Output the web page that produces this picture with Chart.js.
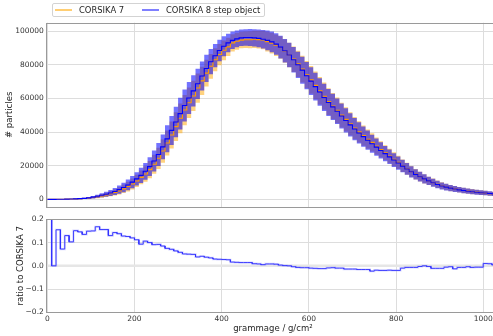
<!DOCTYPE html>
<html><head><meta charset="utf-8">
<script src="https://cdn.jsdelivr.net/npm/chart.js@4.4.0/dist/chart.umd.min.js"></script>
<style>
html,body{margin:0;padding:0;background:#fff;overflow:hidden;}
#wrap{position:relative;width:493px;height:336px;overflow:hidden;background:#fff;font-family:'DejaVu Sans',sans-serif;}
canvas{position:absolute;left:0;}
#top{top:0}
#bot{top:209px}
#legend{position:absolute;left:51.5px;top:2.5px;width:213px;height:14.5px;border:1px solid #d3d3d3;border-radius:2px;background:rgba(255,255,255,0.8);box-sizing:border-box;}
.ln{position:absolute;height:1.5px;width:17px;top:5.8px}
.tx{position:absolute;top:0;line-height:12.5px;font-size:8.4px;color:#262626;white-space:nowrap}
</style></head>
<body><div id="wrap">
<canvas id="top" width="503" height="215"></canvas>
<canvas id="bot" width="503" height="127"></canvas>
<div id="legend">
 <div class="ln" style="left:2.5px;background:rgba(255,165,0,0.55)"></div>
 <div class="tx" style="left:26.5px">CORSIKA 7</div>
 <div class="ln" style="left:89px;background:rgba(0,0,255,0.5)"></div>
 <div class="tx" style="left:113.5px">CORSIKA 8 step object</div>
</div>
</div>
<script>
const binWidth = 10;
const c8 = [40,60,90,130,180,250,340,470,650,950,
 1350,1850,2450,3100,3850,4750,5800,7100,8600,10300,
 12200,14300,16700,19500,22800,26700,31200,36000,41000,46000,
 51000,55800,60300,64500,68700,73300,77800,81800,85400,88500,
 91000,93000,94500,95400,96000,96200,96200,96000,95700,95200,
 94500,93600,92300,90500,88300,85800,83000,80000,76800,73500,
 70300,67000,63800,60600,57600,55000,52400,49600,46900,44300,
 41800,39500,37300,35200,33100,31100,29100,27200,25300,23400,
 21600,19800,18100,16400,14900,13500,12200,11000,9900,8900,
 8000,7300,6700,6200,5700,5300,4900,4600,4300,4000,
 3800,3500,3300,3100];
const c7 = [30,60,78,121,159,227,295,410,573,827,
 1174,1584,2119,2682,3407,4156,5097,6294,7638,9196,
 10971,13083,15100,17727,20898,24451,28756,33488,38282,43233,
 48204,53092,57429,61487,66185,70413,75024,79110,82993,86089,
 88608,90643,93012,93990,94670,94870,94870,95140,94940,94730,
 93750,92860,91660,90230,88210,85800,83330,80560,77420,74090,
 71010,67745,64575,61336,58123,55444,52929,50101,47566,44929,
 42394,40142,37907,35772,33879,31702,29694,27755,25790,23878,
 22041,20000,18228,16516,15005,13541,12200,11033,10010,8999,
 8089,7344,6727,6282,5740,5337,4920,4632,4326,4024,
 3762,3469,3287,3090];
const c8Err = [30,40,60,90,120,160,220,300,400,550,
 750,950,1200,1450,1750,2050,2400,2800,3200,3600,
 4000,4500,5000,5600,6200,6800,7400,8000,8600,9100,
 9400,9500,9500,9300,9000,8600,8100,7500,6900,6400,
 5900,5500,5200,5000,4900,4900,5000,5100,5300,5500,
 5800,6100,6400,6700,7000,7300,7600,7800,8000,8100,
 8200,8200,8200,8100,8000,7800,7600,7400,7200,6900,
 6600,6300,6000,5700,5400,5100,4800,4500,4300,4100,
 3900,3700,3500,3300,3100,2900,2700,2500,2350,2200,
 2050,1950,1850,1750,1650,1600,1550,1500,1450,1400,
 1350,1300,1250,1200];
const c7Err = [25,40,50,80,105,140,190,260,350,480,
 660,840,1060,1280,1560,1830,2150,2520,2900,3280,
 3650,4120,4600,5150,5700,6300,6900,7450,8000,8500,
 8850,9000,9100,8950,8700,8350,7900,7350,6800,6300,
 5850,5450,5150,5000,4900,4900,5000,5100,5300,5500,
 5800,6100,6400,6700,7000,7300,7600,7800,8000,8100,
 8200,8200,8200,8100,8000,7800,7600,7400,7200,6900,
 6600,6300,6000,5700,5400,5100,4800,4500,4300,4100,
 3900,3700,3500,3300,3100,2900,2700,2500,2350,2200,
 2050,1950,1850,1750,1650,1600,1550,1500,1450,1400,
 1350,1300,1250,1200];
const ratio = [0.35,0.0,0.155,0.072,0.13,0.103,0.151,0.146,0.135,0.149,
 0.15,0.168,0.156,0.156,0.13,0.143,0.138,0.128,0.126,0.12,
 0.112,0.093,0.106,0.1,0.091,0.092,0.085,0.075,0.071,0.064,
 0.058,0.051,0.05,0.049,0.038,0.041,0.037,0.034,0.029,0.028,
 0.027,0.026,0.016,0.015,0.014,0.014,0.014,0.009,0.008,0.005,
 0.008,0.008,0.007,0.003,0.001,0.0,-0.004,-0.007,-0.008,-0.008,
 -0.01,-0.011,-0.012,-0.012,-0.009,-0.008,-0.01,-0.01,-0.014,-0.014,
 -0.014,-0.016,-0.016,-0.016,-0.023,-0.019,-0.02,-0.02,-0.019,-0.02,
 -0.02,-0.01,-0.007,-0.007,-0.007,-0.003,0.0,-0.003,-0.011,-0.011,
 -0.011,-0.006,-0.004,-0.013,-0.007,-0.007,-0.004,-0.007,-0.006,-0.006,
 0.01,0.009,0.004,0.003];
const countTicks = [0,20000,40000,60000,80000,100000];
const ratioTicks = [-0.2,-0.1,0,0.1,0.2];
const grammageTicks = [0,200,400,600,800,1000];

function hist(vals){
  const pts=[];
  vals.forEach((v,k)=>{ pts.push({x:k*binWidth,y:v}); pts.push({x:(k+1)*binWidth,y:v}); });
  return pts;
}
const FONT='DejaVu Sans';
const common={pointRadius:0,pointHoverRadius:0,tension:0};
const none='rgba(0,0,0,0)';
const frame={id:'frame',afterDraw(chart){
  const {ctx,chartArea:a}=chart;
  ctx.save();ctx.strokeStyle='#9a9a9a';ctx.lineWidth=1;
  ctx.strokeRect(Math.round(a.left)-0.5,Math.round(a.top)+0.5,Math.round(a.right-a.left)+1,Math.round(a.bottom-a.top));
  ctx.restore();
}};
const gridOpt={color:'#dddddd',lineWidth:1,drawTicks:false};
const tickFont={family:FONT,size:7.5};

new Chart(document.getElementById('top'),{
  type:'line',
  data:{datasets:[
    {...common,data:hist(c8),borderColor:'#0000ff',borderWidth:1.1,fill:false},
    {...common,data:hist(c7),borderColor:'#ff9a00',borderWidth:1.1,fill:false},
    {...common,data:hist(c8.map((v,k)=>v+c8Err[k])),borderColor:none,borderWidth:0,backgroundColor:'rgba(0,0,255,0.55)',fill:'+1'},
    {...common,data:hist(c8.map((v,k)=>v-c8Err[k])),borderColor:none,borderWidth:0,fill:false},
    {...common,data:hist(c7.map((v,k)=>v+c7Err[k])),borderColor:none,borderWidth:0,backgroundColor:'rgba(255,165,0,0.5)',fill:'+1'},
    {...common,data:hist(c7.map((v,k)=>v-c7Err[k])),borderColor:none,borderWidth:0,fill:false}
  ]},
  options:{
    responsive:false,animation:false,devicePixelRatio:1,events:[],
    layout:{padding:{top:22.7,right:4.5,bottom:0,left:0}},
    plugins:{legend:{display:false},tooltip:{enabled:false}},
    scales:{
      x:{type:'linear',min:0,max:1035,
        afterBuildTicks:s=>{s.ticks=grammageTicks.map(v=>({value:v}));},
        ticks:{display:false},grid:gridOpt,border:{display:false},
        afterFit:s=>{s.height=6;}},
      y:{type:'linear',min:-4500,max:105000,
        afterBuildTicks:s=>{s.ticks=countTicks.map(v=>({value:v}));},
        ticks:{padding:3.5,font:tickFont,color:'#333',callback:v=>String(v)},
        grid:gridOpt,border:{display:false},
        title:{display:true,text:'# particles',font:{family:FONT,size:8.5},color:'#262626',padding:{top:4.4,bottom:0}},
        afterFit:s=>{s.width=47.3;}}
    }
  },
  plugins:[frame]
});

new Chart(document.getElementById('bot'),{
  type:'line',
  data:{datasets:[
    {...common,data:hist(ratio),borderColor:'#3030ff',borderWidth:0.9,fill:false},
    {...common,data:hist(ratio),borderColor:'rgba(120,120,255,0.3)',borderWidth:2.2,fill:false},
    {...common,data:[{x:0,y:0},{x:1040,y:0}],borderColor:'#e6e6e6',borderWidth:2.5,fill:false}
  ]},
  options:{
    responsive:false,animation:false,devicePixelRatio:1,events:[],
    layout:{padding:{top:10.3,right:4.5,bottom:0,left:0}},
    plugins:{legend:{display:false},tooltip:{enabled:false}},
    scales:{
      x:{type:'linear',min:0,max:1035,
        afterBuildTicks:s=>{s.ticks=grammageTicks.map(v=>({value:v}));},
        ticks:{padding:2.5,font:tickFont,color:'#333',maxRotation:0,callback:v=>String(v)},
        grid:gridOpt,border:{display:false},
        title:{display:true,text:'grammage / g/cm²',font:{family:FONT,size:8.5},color:'#262626',padding:{top:0,bottom:2}},
        afterFit:s=>{s.height=23.7;}},
      y:{type:'linear',min:-0.2,max:0.2,
        afterBuildTicks:s=>{s.ticks=ratioTicks.map(v=>({value:v}));},
        ticks:{padding:3.5,font:tickFont,color:'#333',callback:v=>(v<-1e-9?'\u2212':'')+Math.abs(v).toFixed(1)},
        grid:gridOpt,border:{display:false},
        title:{display:true,text:'ratio to CORSIKA 7',font:{family:FONT,size:8.5},color:'#262626',padding:{top:15.4,bottom:0}},
        afterFit:s=>{s.width=47.3;}}
    }
  },
  plugins:[frame]
});
</script>
</body></html>
